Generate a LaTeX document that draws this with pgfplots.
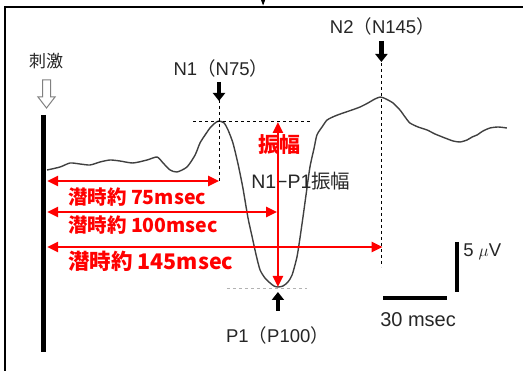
\documentclass[border=0pt]{standalone}
\usepackage{pgfplots}
\pgfplotsset{compat=1.18}
\usetikzlibrary{arrows.meta}
\usepackage{fontspec}
\setmainfont{Liberation Sans}
\newfontfamily\jp{Noto Sans CJK JP}
\definecolor{wave}{gray}{0.25}
\definecolor{lbl}{gray}{0.15}
\definecolor{pure red}{RGB}{255,0,0}
\newcommand{\fs}[1]{\fontsize{#1bp}{#1bp}\selectfont}
\newcommand{\lp}{{\jp （}}
\newcommand{\rp}{{\jp ）}}
\begin{document}
\begin{tikzpicture}
\begin{axis}[width=523bp,height=371bp,scale only axis,hide axis,
 xmin=-19.40,xmax=206.03,ymin=-20.1,ymax=17.0,clip=false]
% frame
\draw[line width=1.6bp,black] (axis cs:-17.24,-20.1) -- (axis cs:-17.24,16.3) -- (axis cs:206.03,16.3);
\fill[black] (axis cs:93.1,17.0) -- (axis cs:94.9,17.0) -- (axis cs:94.0,16.45) -- cycle;
% stimulus bar
\addplot[line width=5bp,black] coordinates {(-0.6,5.5) (-0.6,-18.2)};
% waveform
\addplot[wave,line width=1.4bp,smooth,tension=0.4] coordinates {
(0.9,0) (6.5,0.3) (10.8,0.7) (15.1,0.6) (19.4,0.5) (23.7,0.8) (28.0,1.0) (32.3,0.9)
(37.9,0.7) (44.0,1.0) (48.3,1.3) (50.9,0.7) (53.9,0) (56.9,-0.2) (61.2,0.3) (64.7,1.5)
(66.8,2.7) (69.0,3.5) (71.1,4.2) (73.3,4.7) (75.0,4.9) (77.2,4.7) (78.9,4.0) (81.0,2.7)
(83.2,0.6) (85.3,-1.8) (87.5,-4.8) (89.2,-6.6) (91.0,-8.5) (92.7,-10.0) (94.8,-10.8)
(97.0,-11.3) (98.7,-11.6) (100.4,-11.7) (102.6,-11.6) (104.7,-11.2) (106.5,-10.5)
(108.6,-8.7) (109.9,-6.8) (111.2,-4.7) (112.5,-2.5) (114.2,0.3) (116.0,2.2) (117.2,3.5)
(119.4,4.3) (121.6,5.0) (125.0,5.4) (128.5,5.7) (132.3,6.0) (135.8,6.3) (139.2,6.7)
(142.2,7.1) (144.6,7.3) (147.0,7.1) (150.0,6.7) (153.0,6.0) (155.2,5.3) (157.3,4.7)
(160.8,4.3) (164.7,4.0) (168.1,3.6) (172.4,3.2) (175.9,2.9) (178.9,2.8) (181.9,3.0)
(184.1,3.3) (186.2,3.5) (188.8,3.9) (191.8,4.2) (195.3,4.3) (199.1,4.2)};
% stimulus label and hollow arrow
\node[lbl,inner sep=0] at (axis cs:0.43,10.9) {\fs{17}\jp 刺激};
\filldraw[fill=white,draw=gray,line width=1bp,line join=miter]
 (axis cs:-1.08,9.0) -- (axis cs:2.37,9.0) -- (axis cs:2.37,7.3) -- (axis cs:4.31,7.3)
 -- (axis cs:0.65,6.2) -- (axis cs:-3.02,7.3) -- (axis cs:-1.08,7.3) -- cycle;
% N1
\draw[black,line width=0.9bp,dash pattern=on 3bp off 3bp] (axis cs:63.8,4.85) -- (axis cs:115.5,4.85);
\draw[black,line width=0.9bp,dash pattern=on 3bp off 3bp] (axis cs:75,7.0) -- (axis cs:75,-1.1);
\draw[black,line width=4.5bp,-{Triangle[length=8bp,width=12bp]}] (axis cs:75,8.8) -- (axis cs:75,6.9);
\node[lbl,inner sep=0] at (axis cs:75.8,10.2) {\fs{18.5}N1\lp N75\rp};
% N2
\draw[black,line width=0.9bp,dash pattern=on 3bp off 3bp] (axis cs:145,10.7) -- (axis cs:145,-9.7);
\draw[black,line width=4.5bp,-{Triangle[length=8bp,width=12bp]}] (axis cs:145,12.9) -- (axis cs:145,10.8);
\node[lbl,inner sep=0] at (axis cs:145.4,14.4) {\fs{18.5}N2\lp N145\rp};
% P1
\draw[gray!60,line width=0.9bp,dash pattern=on 3bp off 3bp] (axis cs:78.4,-11.8) -- (axis cs:112.9,-11.8);
\draw[black,line width=4.5bp,-{Triangle[length=8bp,width=12bp]}] (axis cs:100.4,-14.1) -- (axis cs:100.4,-12.2);
\node[lbl,inner sep=0] at (axis cs:100.2,-16.5) {\fs{18.5}P1\lp P100\rp};
% N1-P1 amplitude label
\node[lbl,inner sep=0] at (axis cs:110.3,-1.1) {\fs{19.5}N1−P1{\jp 振幅}};
% red annotations
\draw[pure red,line width=2.5bp,{Triangle[length=11bp,width=10bp]}-{Triangle[length=11bp,width=10bp]}]
 (axis cs:100.4,4.8) -- (axis cs:100.4,-11.7);
\node[pure red,inner sep=0] at (axis cs:100.9,2.5) {\fs{21}\jp\bfseries 振幅};
\draw[pure red,line width=2.5bp,{Triangle[length=11bp,width=10bp]}-{Triangle[length=11bp,width=10bp]}]
 (axis cs:0.9,-1.1) -- (axis cs:75,-1.1);
\draw[pure red,line width=2.5bp,{Triangle[length=11bp,width=10bp]}-{Triangle[length=11bp,width=10bp]}]
 (axis cs:0.9,-4.2) -- (axis cs:100,-4.2);
\draw[pure red,line width=2.5bp,{Triangle[length=11bp,width=10bp]}-{Triangle[length=11bp,width=10bp]}]
 (axis cs:0.9,-7.7) -- (axis cs:145.5,-7.7);
\node[pure red,inner sep=0,anchor=west] at (axis cs:9.9,-2.75) {\fs{19.5}\jp\bfseries 潜時約 75msec};
\node[pure red,inner sep=0,anchor=west] at (axis cs:9.9,-5.5) {\fs{19.5}\jp\bfseries 潜時約 100msec};
\node[pure red,inner sep=0,anchor=west] at (axis cs:9.9,-9.1) {\fs{21.5}\jp\bfseries 潜時約 145msec};
% scale bars
\draw[black,line width=3.5bp] (axis cs:177.6,-7.2) -- (axis cs:177.6,-12.2);
\node[lbl,inner sep=0,anchor=west] at (axis cs:180.2,-8.15) {\fs{18.5}5 $\mu$V};
\draw[black,line width=3.5bp] (axis cs:145.7,-12.8) -- (axis cs:173.3,-12.8);
\node[lbl,inner sep=0] at (axis cs:160.8,-15.0) {\fs{20}30 msec};
\end{axis}
\pgfresetboundingbox
\path[use as bounding box] (current axis.south west) rectangle (current axis.north east);
\end{tikzpicture}
\end{document}
